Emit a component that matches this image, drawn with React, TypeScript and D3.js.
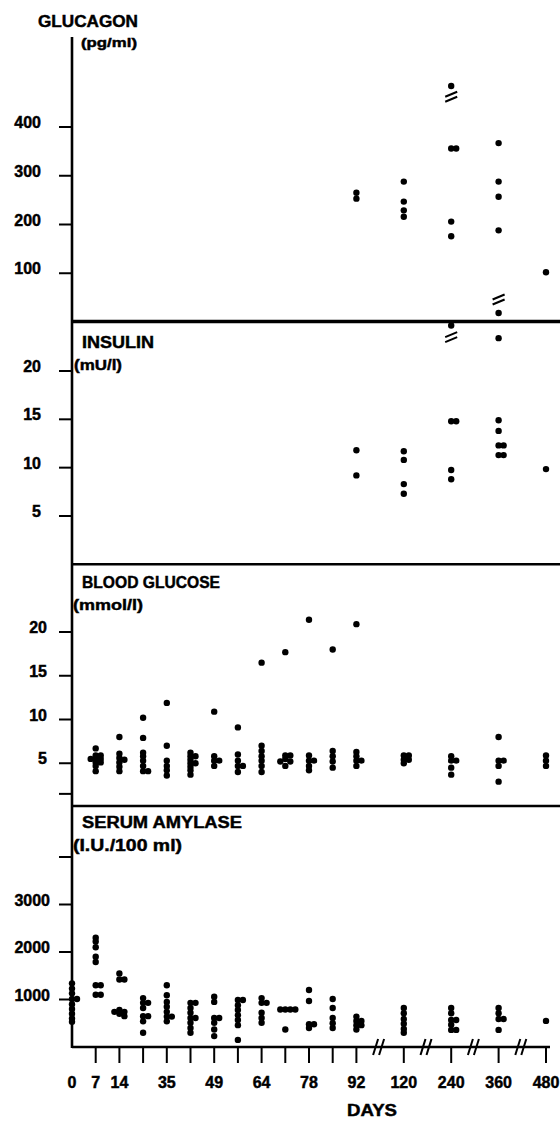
import React from "react";
import * as d3 from "d3";

// ---------- categories / ticks ----------
const DAYS = ["0", "7", "14", "21", "35", "42", "49", "56", "64", "71", "78", "85", "92", "120", "240", "360", "480"];
const DAY_LABELS = ["0", "7", "14", "", "35", "", "49", "", "64", "", "78", "", "92", "120", "240", "360", "480"];
const GAP_SLOTS = ["gap1", "gap2", "gap3", "gap4"];

const glucagonTicks = [100, 200, 300, 400];
const insulinTicks = [5, 10, 15, 20];
const glucoseTicks = [5, 10, 15, 20];
const glucoseMinorTicks = [1.5];
const amylaseTicks = [1000, 2000, 3000];
const amylaseMinorTicks = [4000];

// ---------- data (values per day) ----------
type Group = { day: string; values: number[] };

const glucagon: Group[] = [
  { day: "92", values: [265, 253] },
  { day: "120", values: [288, 247, 229, 216] },
  { day: "240", values: [484, 356, 356, 206, 176] },
  { day: "360", values: [367, 288, 257, 188] },
  { day: "480", values: [102] },
];
const glucagonBreaks = [{ day: "240", value: 462 }];

const insulin: Group[] = [
  { day: "92", values: [11.8, 9.2] },
  { day: "120", values: [11.7, 10.8, 8.3, 7.3] },
  { day: "240", values: [24.7, 14.8, 14.8, 9.75, 8.8] },
  { day: "360", values: [26, 23.4, 14.9, 13.8, 12.3, 12.3, 11.3, 11.3] },
  { day: "480", values: [9.85] },
];
const insulinBreaks = [
  { day: "240", value: 23.5 },
  { day: "360", value: 27.4 },
];

const glucose: Group[] = [
  { day: "7", values: [6.7, 5.9, 5.9, 5.5, 5.5, 5.5, 5.1, 5.1, 4.7, 4.1] },
  { day: "14", values: [8.0, 6.1, 5.6, 5.4, 5.1, 4.6, 4.1] },
  { day: "21", values: [10.2, 7.9, 6.2, 5.8, 5.3, 4.7, 4.1, 4.1] },
  { day: "35", values: [11.9, 7.0, 5.3, 4.7, 4.2, 3.6] },
  { day: "42", values: [6.2, 5.8, 5.8, 5.4, 5.0, 5.0, 4.6, 4.2, 3.7] },
  { day: "49", values: [10.9, 5.8, 5.3, 5.3, 4.7] },
  { day: "56", values: [9.1, 6.0, 5.3, 4.7, 4.7, 4.0] },
  { day: "64", values: [16.5, 7.0, 6.4, 5.8, 5.3, 4.7, 4.0] },
  { day: "71", values: [17.7, 5.9, 5.9, 5.5, 5.2, 5.2, 4.7] },
  { day: "78", values: [21.4, 5.9, 5.3, 5.3, 4.7, 4.2] },
  { day: "85", values: [18.0, 6.4, 5.8, 5.2, 4.5] },
  { day: "92", values: [20.9, 6.3, 5.8, 5.3, 5.3, 4.7] },
  { day: "120", values: [5.9, 5.9, 5.4, 5.4, 5.0] },
  { day: "240", values: [5.8, 5.3, 5.3, 4.5, 3.7] },
  { day: "360", values: [8.0, 5.3, 5.3, 4.7, 2.9] },
  { day: "480", values: [5.9, 5.3, 4.7] },
];

const amylase: Group[] = [
  { day: "0", values: [1340, 1230, 1130, 1010, 1010, 900, 800, 700, 600, 530] },
  { day: "7", values: [2300, 2220, 2100, 1900, 1790, 1300, 1300, 1100, 1100] },
  { day: "14", values: [1550, 1420, 1420, 780, 740, 740, 700, 650] },
  { day: "21", values: [1030, 930, 930, 820, 650, 650, 540, 300] },
  { day: "35", values: [1300, 1090, 950, 850, 740, 640, 640, 540] },
  { day: "42", values: [930, 930, 820, 720, 610, 610, 510, 400, 300] },
  { day: "49", values: [1060, 950, 610, 610, 510, 370, 230] },
  { day: "56", values: [990, 990, 880, 780, 670, 570, 460, 150] },
  { day: "64", values: [1030, 930, 930, 720, 610, 510] },
  { day: "71", values: [790, 790, 790, 790, 370] },
  { day: "78", values: [1200, 970, 480, 480, 400] },
  { day: "85", values: [1010, 820, 610, 500, 400] },
  { day: "92", values: [640, 550, 550, 460, 460, 370] },
  { day: "120", values: [820, 710, 590, 490, 380, 300] },
  { day: "240", values: [820, 710, 570, 570, 470, 360, 360] },
  { day: "360", values: [820, 710, 590, 590, 360] },
  { day: "480", values: [550] },
];

// ---------- helpers ----------
const FONT = "'Liberation Sans', Arial, Helvetica, sans-serif";
const R = 3.2;

function placePoints(groups: Group[], x: (d: string) => number, y: (v: number) => number) {
  const out: { cx: number; cy: number }[] = [];
  for (const g of groups) {
    const cx = x(g.day);
    const placed: { y: number; col: number }[] = [];
    const sorted = [...g.values].sort((a, b) => b - a);
    for (const v of sorted) {
      const py = y(v);
      let col = 0;
      for (const c of [0, 1, -1, 2, -2]) {
        if (!placed.some((p) => p.col === c && Math.abs(p.y - py) < 3)) {
          col = c;
          break;
        }
      }
      placed.push({ y: py, col });
      out.push({ cx: cx + col * 5, cy: py });
    }
  }
  return out;
}

function BreakMark({ cx, cy }: { cx: number; cy: number }) {
  return (
    <g stroke="#000" strokeWidth={2}>
      <line x1={cx - 6} y1={cy + 0} x2={cx + 6} y2={cy - 5} />
      <line x1={cx - 6} y1={cy + 5} x2={cx + 6} y2={cy + 0} />
    </g>
  );
}

export default function App() {
  const domain = [
    ...DAYS.slice(0, 13),
    GAP_SLOTS[0], DAYS[13],
    GAP_SLOTS[1], DAYS[14],
    GAP_SLOTS[2], DAYS[15],
    GAP_SLOTS[3], DAYS[16],
  ];
  const x = d3.scalePoint<string>().domain(domain).range([72, 546]).padding(0);
  const xs = (d: string) => x(d) as number;

  const yGlucagon = d3.scaleLinear().domain([0, 400]).range([322, 127]);
  const yInsulin = d3.scaleLinear().domain([0, 20]).range([564.3, 371]);
  const yGlucose = d3.scaleLinear().domain([0, 20]).range([807, 632]);
  const yAmylase = d3.scaleLinear().domain([0, 4000]).range([1047, 857]);

  const panels = [
    { scale: yGlucagon, ticks: glucagonTicks, minor: [] as number[], labelX: 41, data: glucagon },
    { scale: yInsulin, ticks: insulinTicks, minor: [] as number[], labelX: 41, data: insulin },
    { scale: yGlucose, ticks: glucoseTicks, minor: glucoseMinorTicks, labelX: 47, data: glucose },
    { scale: yAmylase, ticks: amylaseTicks, minor: amylaseMinorTicks, labelX: 50, data: amylase },
  ];

  const axisY = yAmylase(0);
  const textStyle = { stroke: "#000", strokeWidth: 0.45 } as const;

  return (
    <svg
      width={560}
      height={1121}
      style={{ position: "absolute", left: 0, top: 0, background: "#fff" }}
      fontFamily={FONT}
      fontWeight="bold"
    >
      <rect x={0} y={0} width={560} height={1121} fill="#fff" />

      {/* vertical axis */}
      <line x1={72} y1={37} x2={72} y2={axisY + 1} stroke="#000" strokeWidth={2.6} />

      {/* panel separators */}
      <line x1={72} y1={yGlucagon(0) - 0.5} x2={560} y2={yGlucagon(0) - 0.5} stroke="#000" strokeWidth={3.5} />
      <line x1={72} y1={yInsulin(0)} x2={560} y2={yInsulin(0)} stroke="#000" strokeWidth={2.4} />
      <line x1={72} y1={yGlucose(0) - 1} x2={560} y2={yGlucose(0) - 1} stroke="#000" strokeWidth={2.4} />

      {/* x axis */}
      <line x1={72} y1={axisY} x2={550} y2={axisY} stroke="#000" strokeWidth={2.6} />

      <g style={textStyle}>
        {/* y ticks and labels */}
        {panels.map((p, i) => (
          <g key={i}>
            {[...p.ticks, ...p.minor].map((t) => (
              <line key={t} x1={59} x2={72} y1={p.scale(t)} y2={p.scale(t)} stroke="#000" strokeWidth={2} />
            ))}
            {p.ticks.map((t) => (
              <text key={t} x={p.labelX} y={p.scale(t) + 1} fontSize={16} textAnchor="end" fill="#000">
                {String(t)}
              </text>
            ))}
          </g>
        ))}

        {/* x ticks and labels */}
        {DAYS.map((d, i) => (
          <g key={d}>
            {i > 0 && <line x1={xs(d)} x2={xs(d)} y1={axisY} y2={axisY + 16} stroke="#000" strokeWidth={2} />}
            {DAY_LABELS[i] && (
              <text x={xs(d)} y={1088} fontSize={16} textAnchor="middle" fill="#000">
                {DAY_LABELS[i]}
              </text>
            )}
          </g>
        ))}
        <text x={372} y={1116} fontSize={16} textAnchor="middle" fill="#000" textLength={50} lengthAdjust="spacingAndGlyphs">DAYS</text>

        {/* titles */}
        <text x={38} y={27} fontSize={16} textLength={100} lengthAdjust="spacingAndGlyphs">GLUCAGON</text>
        <text x={81} y={47} fontSize={13} textLength={56} lengthAdjust="spacingAndGlyphs">(pg/ml)</text>
        <text x={82} y={348} fontSize={16} textLength={72} lengthAdjust="spacingAndGlyphs">INSULIN</text>
        <text x={74} y={370} fontSize={15} textLength={48} lengthAdjust="spacingAndGlyphs">(mU/l)</text>
        <text x={82} y={588} fontSize={16} textLength={138} lengthAdjust="spacingAndGlyphs">BLOOD GLUCOSE</text>
        <text x={73} y={610} fontSize={15} textLength={70} lengthAdjust="spacingAndGlyphs">(mmol/l)</text>
        <text x={82} y={828} fontSize={16} textLength={160} lengthAdjust="spacingAndGlyphs">SERUM  AMYLASE</text>
        <text x={73} y={851} fontSize={16} textLength={109} lengthAdjust="spacingAndGlyphs">(I.U./100 ml)</text>
      </g>

      {/* x axis breaks */}
      {GAP_SLOTS.map((g) => (
        <g key={g} stroke="#000" strokeWidth={2}>
          <line x1={xs(g) - 7} y1={axisY + 8} x2={xs(g) - 2} y2={axisY - 8} />
          <line x1={xs(g) - 1} y1={axisY + 8} x2={xs(g) + 4} y2={axisY - 8} />
        </g>
      ))}

      {/* points */}
      {panels.map((p, i) => (
        <g key={"pts" + i}>
          {placePoints(p.data, xs, p.scale).map((pt, j) => (
            <circle key={j} cx={pt.cx} cy={pt.cy} r={R} fill="#000" />
          ))}
        </g>
      ))}

      {/* data break marks */}
      {glucagonBreaks.map((b, i) => (
        <BreakMark key={"gb" + i} cx={xs(b.day)} cy={yGlucagon(b.value)} />
      ))}
      {insulinBreaks.map((b, i) => (
        <BreakMark key={"ib" + i} cx={xs(b.day)} cy={yInsulin(b.value)} />
      ))}
    </svg>
  );
}
